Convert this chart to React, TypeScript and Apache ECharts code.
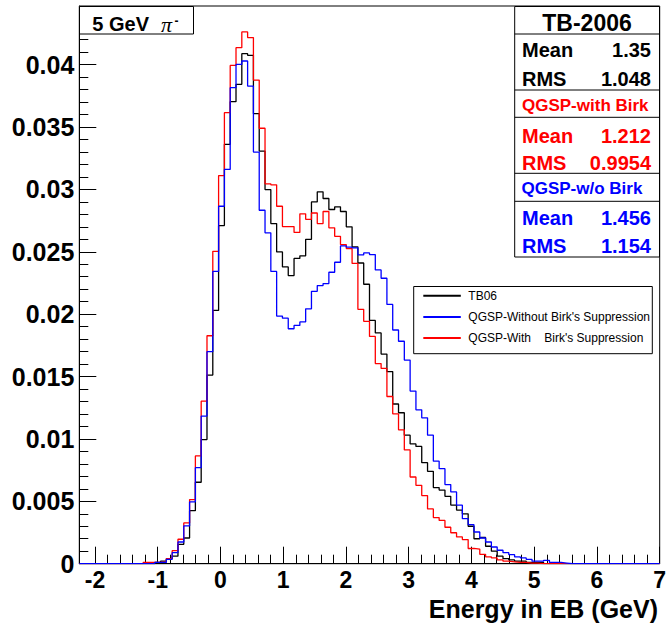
import React, { useEffect, useRef } from "react";
import * as echarts from "echarts";

// Histogram binning (100 bins from -2.25 to 7 GeV)
const BIN_MIN = -2.25;
const BIN_MAX = 7;
const N_BINS = 100;
const Y_MAX = 0.0447;

// Bin contents (normalised)
const tb06 = [
  0, 0, 0, 0, 0, 0, 0, 0, 0, 0,
  0, 0, 0, 0.0001, 0.0002, 0.0004, 0.0006, 0.00155, 0.00206, 0.00425,
  0.00653, 0.00995, 0.01512, 0.0203, 0.0271, 0.03361, 0.03703, 0.03842, 0.04088, 0.04075,
  0.03607, 0.03307, 0.02999, 0.02726, 0.02499, 0.02379, 0.02309, 0.02447, 0.02468, 0.026,
  0.029, 0.02981, 0.02927, 0.02839, 0.0286, 0.02823, 0.027, 0.0254, 0.0241, 0.0224,
  0.0195, 0.0185, 0.0168, 0.0154, 0.0128, 0.0121, 0.0103, 0.0096, 0.0094, 0.0081,
  0.0074, 0.0061, 0.0059, 0.0054, 0.0047, 0.0043, 0.004, 0.003, 0.002, 0.0021,
  0.0014, 0.001, 0.0006, 0.0004, 0.0003, 0.0002, 0.0002, 0.0001, 0.0001, 0.0001,
  0, 0, 0, 0, 0, 0, 0, 0, 0, 0,
  0, 0, 0, 0, 0, 0, 0, 0, 0, 0,
];

const qgspWithoutBirk = [
  0, 0, 0, 0, 0, 0, 0, 0, 0, 0,
  0, 0, 0, 0.0001, 0.0001, 0.00035, 0.00088, 0.00174, 0.00303, 0.00495,
  0.0077, 0.01183, 0.01699, 0.02343, 0.02865, 0.0316, 0.03815, 0.04002, 0.04029, 0.03828,
  0.03299, 0.02833, 0.02652, 0.02343, 0.01985, 0.01968, 0.01883, 0.0191, 0.01938, 0.02043,
  0.02183, 0.02229, 0.02245, 0.02336, 0.02416, 0.02547, 0.02537, 0.02531, 0.02475, 0.02491,
  0.02478, 0.02355, 0.02288, 0.02078, 0.01873, 0.01783, 0.01632, 0.01384, 0.01233, 0.01169,
  0.0103, 0.00822, 0.00762, 0.00634, 0.00575, 0.00469, 0.00361, 0.00313, 0.00254, 0.00206,
  0.00174, 0.00134, 0.00108, 0.00088, 0.00072, 0.00054, 0.00046, 0.00035, 0.0002, 0.0002,
  0.00027, 0.0001, 0.0001, 0.00005, 0, 0, 0, 0, 0, 0,
  0, 0, 0, 0, 0, 0, 0, 0, 0, 0,
];

const qgspWithBirk = [
  0, 0, 0, 0, 0, 0, 0, 0, 0, 0,
  0, 0.0001, 0.0001, 0.0001, 0.00015, 0.0004, 0.00104, 0.00196, 0.00327, 0.00514,
  0.00864, 0.01303, 0.01827, 0.02504, 0.03111, 0.03615, 0.03994, 0.04136, 0.04262, 0.04217,
  0.03876, 0.0349, 0.03045, 0.03037, 0.02865, 0.02702, 0.02702, 0.02655, 0.02804, 0.0276,
  0.02811, 0.02726, 0.02823, 0.02692, 0.02624, 0.02558, 0.02526, 0.02407, 0.02039, 0.01943,
  0.01822, 0.01604, 0.01565, 0.0134, 0.01201, 0.01073, 0.00912, 0.00695, 0.00628, 0.00546,
  0.00439, 0.0037, 0.00347, 0.00292, 0.00248, 0.00215, 0.00193, 0.00122, 0.00117, 0.00075,
  0.00055, 0.00046, 0.0003, 0.0002, 0.00015, 0.0001, 0.0001, 0.00005, 0.00005, 0,
  0, 0, 0, 0, 0, 0, 0, 0, 0, 0,
  0, 0, 0, 0, 0, 0, 0, 0, 0, 0,
];

const seriesNames = [
  "TB06",
  "QGSP-Without Birk's Suppression",
  "QGSP-With    Birk's Suppression",
];

const xTickLabels = [-2, -1, 0, 1, 2, 3, 4, 5, 6, 7];
const yTickLabels = [0, 0.005, 0.01, 0.015, 0.02, 0.025, 0.03, 0.035, 0.04];
const xAxisTitle = "Energy in EB (GeV)";

const statsBlocks = [
  { title: "TB-2006", mean: "1.35", rms: "1.048", color: "#000000" },
  { title: "QGSP-with Birk", mean: "1.212", rms: "0.9954", color: "#ff0000" },
  { title: "QGSP-w/o Birk", mean: "1.456", rms: "1.154", color: "#0000ff" },
];

const FONT = "'Liberation Sans', Arial, Helvetica, sans-serif";

function toSteps(values: number[]) {
  const w = (BIN_MAX - BIN_MIN) / N_BINS;
  const pts = values.map((v, i) => [BIN_MIN + i * w, v]);
  pts.push([BIN_MAX, values[values.length - 1]]);
  return pts;
}

function minorX() {
  const out: number[] = [];
  for (let t = -2; t < 7; t++) {
    for (let j = 1; j < 5; j++) out.push(+(t + 0.2 * j).toFixed(1));
  }
  return out;
}

function minorY() {
  const out: number[] = [];
  for (let k = 1; k <= 44; k++) if (k % 5 !== 0) out.push(k / 1000);
  return out;
}

function txt(text: string, x: number, y: number, opts: any) {
  const align = opts.align || "left";
  return {
    type: "text",
    x,
    y,
    z: 12,
    style: {
      text,
      fill: opts.color || "#000",
      fontSize: opts.size,
      fontWeight: opts.weight || "bold",
      fontStyle: opts.style || "normal",
      fontFamily: opts.family || FONT,
      align,
      textAlign: align,
      verticalAlign: "middle",
      textVerticalAlign: "middle",
    },
  };
}

function buildGraphics() {
  const els: any[] = [];
  // title box
  els.push({
    type: "rect",
    z: 10,
    shape: { x: 79.5, y: 6.5, width: 114, height: 27.5 },
    style: { fill: "#fff", stroke: "#000", lineWidth: 1 },
  });
  els.push(txt("5 GeV", 92.3, 23.8, { size: 20 }));
  els.push(
    txt("π", 161, 24.5, {
      size: 22,
      weight: "normal",
      style: "italic",
      family: "'Liberation Serif', 'DejaVu Serif', serif",
    })
  );
  els.push(txt("-", 174.5, 21, { size: 12 }));

  // stats box
  const sx0 = 514.7;
  const sx1 = 659.5;
  els.push({
    type: "rect",
    z: 10,
    shape: { x: sx0, y: 6.5, width: sx1 - sx0, height: 250.5 },
    style: { fill: "#fff", stroke: "#000", lineWidth: 1 },
  });
  [34, 90, 117.3, 173.3, 201.3].forEach((y) => {
    els.push({
      type: "line",
      z: 11,
      shape: { x1: sx0, y1: y, x2: sx1, y2: y },
      style: { stroke: "#000", lineWidth: 1 },
    });
  });
  const b0 = statsBlocks[0];
  els.push(txt(b0.title, 587, 22.8, { size: 23, align: "center", color: b0.color }));
  els.push(txt("Mean", 522, 50.3, { size: 20, color: b0.color }));
  els.push(txt(b0.mean, 651, 50.3, { size: 20, align: "right", color: b0.color }));
  els.push(txt("RMS", 522, 78.8, { size: 20, color: b0.color }));
  els.push(txt(b0.rms, 651, 78.8, { size: 20, align: "right", color: b0.color }));

  const b1 = statsBlocks[1];
  els.push(txt(b1.title, 522, 105.2, { size: 17, color: b1.color }));
  els.push(txt("Mean", 522, 135.5, { size: 20, color: b1.color }));
  els.push(txt(b1.mean, 651, 135.5, { size: 20, align: "right", color: b1.color }));
  els.push(txt("RMS", 522, 163, { size: 20, color: b1.color }));
  els.push(txt(b1.rms, 651, 163, { size: 20, align: "right", color: b1.color }));

  const b2 = statsBlocks[2];
  els.push(txt(b2.title, 521.5, 188, { size: 17, color: b2.color }));
  els.push(txt("Mean", 522, 217.8, { size: 20, color: b2.color }));
  els.push(txt(b2.mean, 651, 217.8, { size: 20, align: "right", color: b2.color }));
  els.push(txt("RMS", 522, 245.5, { size: 20, color: b2.color }));
  els.push(txt(b2.rms, 651, 245.5, { size: 20, align: "right", color: b2.color }));

  // legend box
  els.push({
    type: "rect",
    z: 3,
    shape: { x: 413.7, y: 286.5, width: 238.6, height: 67.2 },
    style: { fill: "#fff", stroke: "#000", lineWidth: 1 },
  });

  // x axis title
  els.push(txt(xAxisTitle, 658, 609, { size: 25, align: "right" }));
  return els;
}

export default function App() {
  const ref = useRef<HTMLDivElement>(null);
  useEffect(() => {
    if (!ref.current) return;
    const chart = echarts.init(ref.current, null, { renderer: "svg" });
    const colors = ["#000000", "#0000ff", "#ff0000"];
    const data = [tb06, qgspWithoutBirk, qgspWithBirk];
    const option: any = {
      animation: false,
      backgroundColor: "#ffffff",
      grid: {
        left: 79.3,
        top: 6,
        right: 666 - 659.7,
        bottom: 624 - 563.7,
        containLabel: false,
        outerBoundsMode: "none",
        show: true,
        borderColor: "#000",
        borderWidth: 1,
        backgroundColor: "#fff",
      },
      legend: {
        orient: "vertical",
        left: 422.3,
        top: 289.7,
        padding: 0,
        itemWidth: 37.5,
        itemHeight: 14,
        itemGap: 9.2,
        selectedMode: false,
        z: 5,
        itemStyle: { opacity: 0, borderWidth: 0 },
        textStyle: {
          fontSize: 12,
          color: "#000",
          fontFamily: FONT,
          padding: [0, 0, 0, 2.5],
        },
        data: seriesNames,
      },
      xAxis: [
        {
          type: "value",
          min: BIN_MIN,
          max: BIN_MAX,
          position: "bottom",
          axisLine: { show: true, onZero: false, lineStyle: { color: "#000", width: 1 } },
          axisTick: {
            show: true,
            inside: true,
            length: 17,
            customValues: xTickLabels,
            lineStyle: { color: "#000", width: 1 },
          },
          axisLabel: {
            customValues: xTickLabels,
            fontSize: 23,
            fontWeight: "bold",
            color: "#000",
            fontFamily: FONT,
            margin: 5,
          },
          splitLine: { show: false },
        },
        {
          type: "value",
          min: BIN_MIN,
          max: BIN_MAX,
          position: "bottom",
          axisLine: { show: false, onZero: false },
          axisTick: {
            show: true,
            inside: true,
            length: 9,
            customValues: minorX(),
            lineStyle: { color: "#000", width: 1 },
          },
          axisLabel: { show: false },
          splitLine: { show: false },
        },
      ],
      yAxis: [
        {
          type: "value",
          min: 0,
          max: Y_MAX,
          position: "left",
          axisLine: { show: true, onZero: false, lineStyle: { color: "#000", width: 1 } },
          axisTick: {
            show: true,
            inside: true,
            length: 17,
            customValues: yTickLabels,
            lineStyle: { color: "#000", width: 1 },
          },
          axisLabel: {
            customValues: yTickLabels,
            fontSize: 25,
            fontWeight: "bold",
            color: "#000",
            fontFamily: FONT,
            margin: 5,
          },
          splitLine: { show: false },
        },
        {
          type: "value",
          min: 0,
          max: Y_MAX,
          position: "left",
          offset: 0,
          axisLine: { show: false, onZero: false },
          axisTick: {
            show: true,
            inside: true,
            length: 9,
            customValues: minorY(),
            lineStyle: { color: "#000", width: 1 },
          },
          axisLabel: { show: false },
          splitLine: { show: false },
        },
      ],
      series: seriesNames.map((name, i) => ({
        name,
        type: "line",
        step: "end",
        xAxisIndex: 0,
        yAxisIndex: 0,
        data: toSteps(data[i]),
        showSymbol: false,
        symbol: "none",
        silent: true,
        color: colors[i],
        lineStyle: { color: colors[i], width: 1.3 },
        emphasis: { disabled: true },
        z: i === 1 ? 3 : 2,
      })),
      graphic: buildGraphics(),
    };
    chart.setOption(option);
    return () => chart.dispose();
  }, []);
  return (
    <div
      ref={ref}
      style={{ position: "absolute", left: 0, top: 0, width: 666, height: 624, background: "#fff" }}
    />
  );
}
